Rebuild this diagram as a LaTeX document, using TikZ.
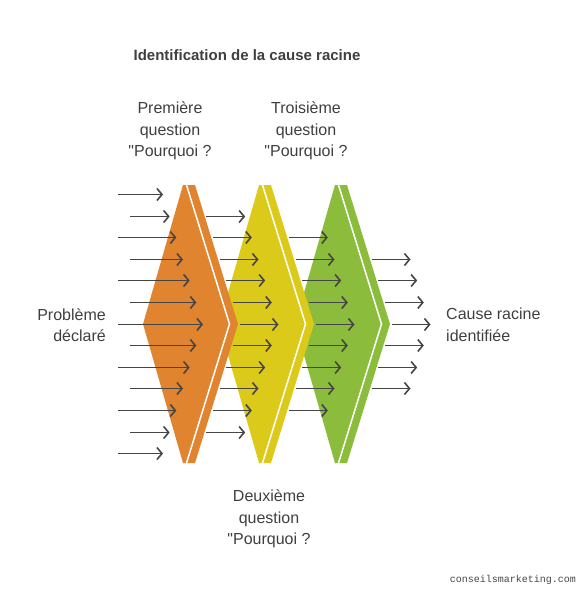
\documentclass[tikz,border=0pt]{standalone}
\usepackage{fontspec}
\setmainfont{Liberation Sans}
\newfontfamily\lblfont{Liberation Sans}
\newfontfamily\wmfont{Liberation Mono}
\usetikzlibrary{arrows.meta}
\definecolor{chorange}{HTML}{E08430}
\definecolor{chyellow}{HTML}{DCCA1A}
\definecolor{chgreen}{HTML}{8CBC3C}
\definecolor{txtgray}{HTML}{3F3F3F}
\definecolor{arrgray}{HTML}{454545}
\tikzset{
  lbl/.style={inner sep=0pt,text=txtgray,font=\lblfont\fontsize{16}{21.5}\selectfont},
  flow/.style={->,arrgray,line width=1.6pt},
}
\begin{document}
\begin{tikzpicture}[x=1pt,y=-1pt,>={Straight Barb[length=5pt,width=12pt]}]
        \useasboundingbox (0,0) rectangle (585,596);
        % chevrons, back to front
        \foreach \dx/\col in {152/chgreen,76/chyellow,0/chorange}{
            \fill[\col,shift={(\dx,0)}] (183,185)--(195,185)--(238,324)--(195,463)--(183,463)--(143,324)--cycle;
            \draw[white,line width=1.5pt,shift={(\dx,0)}] (186.5,185)--(229.5,324)--(186.5,463);
        }
        % incoming arrows
        \foreach \k in {0,...,12}{
            \pgfmathsetmacro{\m}{6-abs(\k-6)}
            \pgfmathsetmacro{\sx}{ifthenelse(mod(\k,2)==0,118,130)}
            \pgfmathsetmacro{\yy}{round(21.6*\k)+194.5}
            \draw[flow] (\sx,\yy) -- (163+6.67*\m,\yy);
        }
        % arrows between and after the chevrons
        \foreach \g in {1,2,3}{
            \pgfmathtruncatemacro{\last}{12-\g}
            \foreach \k in {\g,...,\last}{
                \pgfmathsetmacro{\m}{6-abs(\k-6)}
                \pgfmathsetmacro{\sx}{199.5+76*(\g-1)+6.67*\m}
                \pgfmathsetmacro{\yy}{round(21.6*\k)+194.5}
                \draw[flow] (\sx,\yy) -- (\sx+39,\yy);
            }
        }
        \node[inner sep=0pt,text=txtgray,font=\bfseries\fontsize{15}{18}\selectfont] (title) at (247,55) {Identification de la cause racine};
        \node[lbl,align=center] (q1) at (170,131) {Première\\question\\"Pourquoi ?};
        \node[lbl,align=center] (q3) at (306,131) {Troisième\\question\\"Pourquoi ?};
        \node[lbl,align=center] (q2) at (269,519) {Deuxième\\question\\"Pourquoi ?};
        \node[lbl,align=right,anchor=east] (pb) at (106,325) {Problème\\déclaré};
        \node[lbl,align=left,anchor=west] (cr) at (446,325) {Cause racine\\identifiée};
        \node[inner sep=0pt,anchor=east,text=arrgray,font=\wmfont\fontsize{10}{12}\selectfont] (wm) at (576,580) {conseilsmarketing.com};
\end{tikzpicture}
\end{document}
